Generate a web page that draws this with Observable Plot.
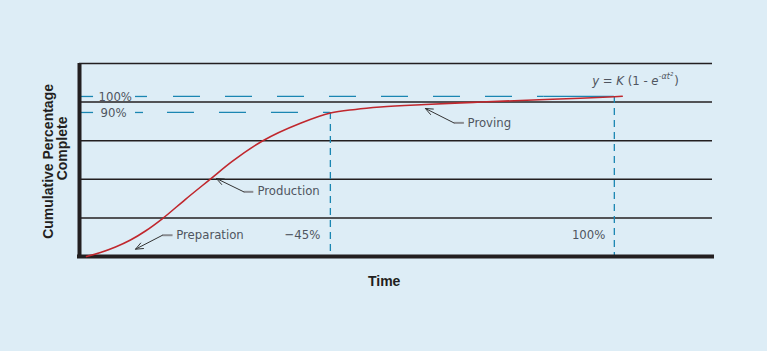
<!DOCTYPE html>
<html><head><meta charset="utf-8">
<script src="https://cdn.jsdelivr.net/npm/d3@7"></script>
<script src="https://cdn.jsdelivr.net/npm/@observablehq/plot@0.6"></script>
<style>
html,body{margin:0;padding:0;background:#ddedf6;}
#chart{width:767px;height:351px;overflow:hidden;}
</style></head><body><div id="chart"></div>
<script>
// ---- data (time units: 0 = start, 100 = completion) ----
const curveT = [0, 2.65, 5.49, 8.33, 11.17, 14.34, 18.75, 23.35, 27.6, 33.33, 40.53, 46.21, 50.95, 55.68, 64.2, 73.3, 82.2, 93.56, 101.5];
const curveV = [0, 2.5, 5.94, 10.31, 15.94, 23.56, 35.75, 48.06, 59.4, 72.2, 83.3, 89.7, 91.9, 93.4, 95.0, 96.3, 97.5, 98.9, 100.1];
const axisT = [-1.33, 118.6];
const axisV = [0, 120.6];
const gridValues = [24.1, 48.2, 72.4, 96.5, 120.6];
const levelValues = [100, 90];
const levelLabels = ["100%", "90%"];
const levelLabelT = [2.27, 2.65];
const levelLeadStart = [-0.95, -0.95, 9.28, 9.28];
const levelLeadEnd = [1.33, 1.33, 11.55, 10.8];
const levelLeadV = [100, 90, 100, 90];
const levelRunStart = [16.48, 15.34];
const levelRunEnd = [86.7, 46.2];
const levelTailT = [86.7, 100];
const milestoneT = [46.2, 100];
const milestoneV = [90, 100];
const milestoneLabels = ["\u221245%", "100%"];
const milestoneLabelT = [44.3, 98.3];
const milestoneLabelV = [13.3, 13.3];
const phaseLabels = ["Preparation", "Production", "Proving"];
const phaseLabelT = [17.0, 32.4, 72.2];
const phaseLabelV = [13.3, 40.8, 83.5];
const arrowTipT = [9.28, 24.6, 64.2];
const arrowTipV = [4.56, 48.75, 92.5];
const arrowElbowT = [14.4, 29.8, 69.6];
const arrowElbowV = [13.3, 40.4, 83.5];
const arrowTailT = [16.3, 31.6, 71.5];
const formulaText = "y = K (1 - e-\u03b1t\u00b2)";
const formulaT = 95.8, formulaV = 110;
const xTitle = "Time", xTitleT = 56.4, xTitleV = -15.4;
const yTitleLines = ["Cumulative Percentage", "Complete"];
const yTitleT = [-7.2, -4.6];
const yTitleV = [59.4, 67.5];

const curve = curveT.map((t, i) => ({t, v: curveV[i]}));
const idx3 = d3.range(3), idx2 = d3.range(2), idx4 = d3.range(4);
const gray = "#4f5560";
const blue = "#1a86b2";
const ink = "#231f20";
const thin = "DejaVu Sans Condensed, DejaVu Sans, sans-serif";
const bold = "Liberation Sans, Arial, sans-serif";

const plot = Plot.plot({
  width: 767, height: 351,
  marginLeft: 79, marginRight: 55, marginTop: 63, marginBottom: 95,
  x: {domain: axisT, axis: null},
  y: {domain: axisV, axis: null},
  style: {background: "#ddedf6", overflow: "visible"},
  marks: [
    Plot.ruleY(gridValues, {x1: axisT[0], x2: axisT[1], stroke: ink, strokeWidth: 1.5}),
    // level dashes
    Plot.ruleY(idx4, {y: i => levelLeadV[i], x1: i => levelLeadStart[i], x2: i => levelLeadEnd[i], stroke: blue, strokeWidth: 1.3}),
    Plot.ruleY(idx2, {y: i => levelValues[i], x1: i => levelRunStart[i], x2: i => levelRunEnd[i], stroke: blue, strokeWidth: 1.3, strokeDasharray: "27,25"}),
    Plot.ruleY([levelValues[0]], {x1: levelTailT[0], x2: levelTailT[1], stroke: blue, strokeWidth: 1.3}),
    Plot.ruleX(idx2, {x: i => milestoneT[i], y1: i => milestoneV[i], y2: 0, stroke: blue, strokeWidth: 1.3, strokeDasharray: "7,5"}),
    // axes
    Plot.ruleX([axisT[0]], {y1: axisV[0], y2: axisV[1], stroke: ink, strokeWidth: 4}),
    Plot.ruleY([axisV[0]], {x1: axisT[0], x2: axisT[1], stroke: ink, strokeWidth: 4, strokeLinecap: "square"}),
    // curve
    Plot.line(curve, {x: "t", y: "v", curve: "monotone-x", stroke: "#c0272d", strokeWidth: 1.6}),
    // leaders
    Plot.link(idx3, {x1: i => arrowElbowT[i], x2: i => arrowTailT[i], y1: i => arrowElbowV[i], y2: i => arrowElbowV[i], stroke: "#8a8d92", strokeWidth: 2}),
    Plot.arrow(idx3, {x1: i => arrowElbowT[i], y1: i => arrowElbowV[i], x2: i => arrowTipT[i], y2: i => arrowTipV[i], stroke: "#333", strokeWidth: 1, headLength: 12, headAngle: 45}),
    // labels
    Plot.text(idx2, {x: i => levelLabelT[i], y: i => levelValues[i], text: i => levelLabels[i], textAnchor: "start", fill: gray, fontSize: 13, fontFamily: thin}),
    Plot.text(idx2, {x: i => milestoneLabelT[i], y: i => milestoneLabelV[i], text: i => milestoneLabels[i], textAnchor: "end", fill: gray, fontSize: 13, fontFamily: thin}),
    Plot.text(idx3, {x: i => phaseLabelT[i], y: i => phaseLabelV[i], text: i => phaseLabels[i], textAnchor: "start", fill: gray, fontSize: 13, fontFamily: thin}),
    Plot.text([formulaText], {x: formulaT, y: formulaV, text: d => d, textAnchor: "start", fill: gray, fontSize: 13, fontFamily: thin}),
    Plot.text([xTitle], {x: xTitleT, y: xTitleV, text: d => d, fill: ink, fontSize: 14, fontWeight: "bold", fontFamily: bold}),
    Plot.text(idx2, {x: i => yTitleT[i], y: i => yTitleV[i], text: i => yTitleLines[i], rotate: -90, fill: ink, fontSize: 14, fontWeight: "bold", fontFamily: bold})
  ]
});

// rebuild the formula with a real superscript
d3.select(plot).selectAll("text").each(function() {
  if (this.textContent !== formulaText) return;
  const ft = d3.select(this);
  ft.text(null);
  ft.append("tspan").attr("font-style", "italic").text("y");
  ft.append("tspan").text(" = ");
  ft.append("tspan").attr("font-style", "italic").text("K");
  ft.append("tspan").text(" (1 - ");
  ft.append("tspan").attr("font-style", "italic").text("e");
  ft.append("tspan").attr("font-size", 9).attr("dy", "-0.6em").attr("font-style", "italic").text("-\u03b1t\u00b2");
  ft.append("tspan").attr("dy", "5.4").attr("dx", 1).text(")");
});
document.getElementById("chart").appendChild(plot);
</script>
</body></html>
